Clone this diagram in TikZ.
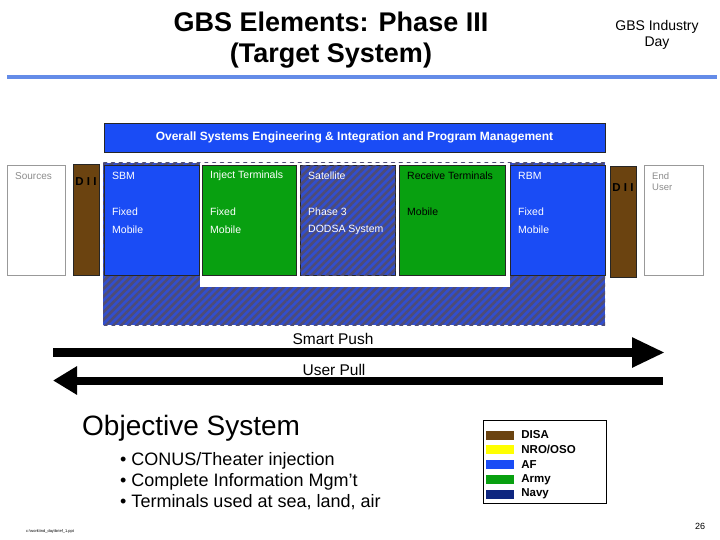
\documentclass[tikz,border=0pt]{standalone}
\usepackage{fontspec}
\setmainfont{Liberation Sans}
\usetikzlibrary{positioning,arrows.meta,patterns.meta}

\definecolor{afblue}{RGB}{26,76,245}
\definecolor{armygreen}{RGB}{8,160,16}
\definecolor{disabrown}{RGB}{107,67,16}
\definecolor{nroyellow}{RGB}{255,255,0}
\definecolor{navyblue}{RGB}{14,38,128}
\definecolor{hatchblue}{RGB}{50,78,205}
\definecolor{hatchgray}{RGB}{78,76,118}
\definecolor{rulecolor}{RGB}{100,140,232}

\tikzset{
  titletext/.style={anchor=base, font=\fontsize{27}{30}\selectfont\bfseries},
  elembox/.style={draw=black!85, line width=0.8pt, anchor=north west,
    minimum height=110pt, inner sep=0pt},
  afbox/.style={fill=afblue},
  armybox/.style={fill=armygreen},
  hatchbg/.style={fill=hatchblue, postaction={pattern={Lines[angle=45,distance=5.5pt,line width=2.6pt]}, pattern color=hatchgray}},
  hatchbox/.style={hatchbg},
  diibox/.style={draw=black!85, line width=0.8pt, fill=disabrown, anchor=north west,
    minimum width=26pt, minimum height=111pt, inner sep=0pt},
  endbox/.style={draw=black!40, line width=0.8pt, fill=white, anchor=north west,
    minimum width=58pt, minimum height=110pt, inner sep=0pt},
  boxtext/.style={anchor=west, inner sep=0pt, font=\fontsize{10.5}{11}\selectfont},
  diitext/.style={inner sep=0pt, font=\fontsize{11.5}{12}\selectfont\bfseries},
  greytext/.style={anchor=west, inner sep=0pt, text=black!45, font=\fontsize{10}{11}\selectfont, align=left},
  pushtext/.style={anchor=base, font=\fontsize{15.5}{17}\selectfont},
  swatch/.style={fill=#1, minimum width=28pt, minimum height=9pt, inner sep=0pt},
  legtext/.style={inner sep=0pt, font=\fontsize{11.5}{12}\selectfont\bfseries}
}

\begin{document}
\begin{tikzpicture}[x=1pt, y=-1pt]
  \useasboundingbox (0,0) rectangle (720,540);

  % Heading
  \node[titletext] (title1) at (331,32) {GBS Elements: Phase III};
  \node[titletext] (title2) at (331,63) {(Target System)};
  \node[anchor=base, font=\fontsize{14}{16}\selectfont] (event1) at (657,31) {GBS Industry};
  \node[anchor=base, font=\fontsize{14}{16}\selectfont] (event2) at (657,47) {Day};
  \fill[rulecolor] (7,75) rectangle (717,79);

  % Management bar
  \node[draw=black!85, line width=0.8pt, fill=afblue, text=white,
    minimum width=501pt, minimum height=29pt, inner sep=0pt,
    font=\fontsize{12}{13}\selectfont\bfseries] (mgmt) at (354.5,137.5)
    {Overall Systems Engineering \& Integration and Program Management};

  % Hatched backdrop with white notch
  \fill[hatchbg] (103,163) rectangle (605,325);
  \fill[white] (200,163) rectangle (510,287);

  % Sources, DII and end user
  \node[endbox] (src) at (7,165) {};
  \node[greytext] (src-a) at (15,176) {Sources};
  \node[diibox] (dii1) at (73,164) {};
  \node[diitext] (dii1-a) at (86,182) {D I I};
  \node[diibox] (dii2) at (610,166) {};
  \node[diitext] (dii2-a) at (623,188) {D I I};
  \node[endbox, minimum width=59pt] (usr) at (644,165) {};
  \node[greytext, font=\fontsize{9.5}{11}\selectfont] (usr-a) at (652,182) {End\\User};

  % Segment boxes
  \foreach \nm/\x/\w/\sty/\tcol/\ta/\tb/\tc in {
      sbm/104/95/afbox/white/SBM/Fixed/Mobile,
      inj/202/94/armybox/white/Inject Terminals/Fixed/Mobile,
      sat/300/95/hatchbox/white/Satellite/Phase 3/DODSA System,
      rcv/399/106/armybox/black/Receive Terminals/Mobile/,
      rbm/510/95/afbox/white/RBM/Fixed/Mobile} {
    \node[elembox, \sty, minimum width=\w pt] (\nm) at (\x,165) {};
    \node[boxtext, text=\tcol] (\nm-a) at ({\x+8},176) {\ta};
    \node[boxtext, text=\tcol] (\nm-b) at ({\x+8},212) {\tb};
    \node[boxtext, text=\tcol] (\nm-c) at ({\x+8},230) {\tc};
  }

  % Push and pull arrows
  \coordinate (pushL) at (53,352.5);
  \coordinate (pushR) at (665,352.5);
  \coordinate (pullL) at (53,380.5);
  \coordinate (pullR) at (663,380.5);
  \draw[line width=9pt, -{Triangle[length=33pt, width=28pt]}] (pushL) -- (pushR);
  \draw[line width=8pt, {Triangle[length=24pt, width=27pt]}-] (pullL) -- (pullR);
  \node[pushtext] (push) at (333,344) {Smart Push};
  \node[pushtext] (pull) at (334,375) {User Pull};

  % Objective system
  \node[anchor=west, inner sep=0pt, font=\fontsize{28}{32}\selectfont] (obj) at (82,428) {Objective System};
  \node[anchor=west, inner sep=0pt, align=left, font=\fontsize{18}{21}\selectfont] (bullets) at (120,481)
    {• CONUS/Theater injection\\• Complete Information Mgm’t\\• Terminals used at sea, land, air};

  % Legend
  \node[draw=black, line width=0.8pt, minimum width=123pt, minimum height=83pt,
    anchor=north west, inner sep=0pt] (legend) at (483,420) {};
  \foreach \c/\lab [count=\i from 0] in {disabrown/DISA, nroyellow/NRO\slash OSO, afblue/AF, armygreen/Army, navyblue/Navy} {
    \node[swatch=\c] (sw\i) at (500,{435+14.8*\i}) {};
    \node[legtext, anchor=west, right=7pt of sw\i] (lg\i) {\lab};
  }

  % Footer
  \node[font=\fontsize{9}{10}\selectfont] (page) at (700,526) {26};
  \node[anchor=west, inner sep=0pt, font=\fontsize{4}{5}\selectfont] (file) at (26,531)
    {c:\textbackslash work\textbackslash ind\_day\textbackslash brief\_1.ppt};
\end{tikzpicture}
\end{document}
